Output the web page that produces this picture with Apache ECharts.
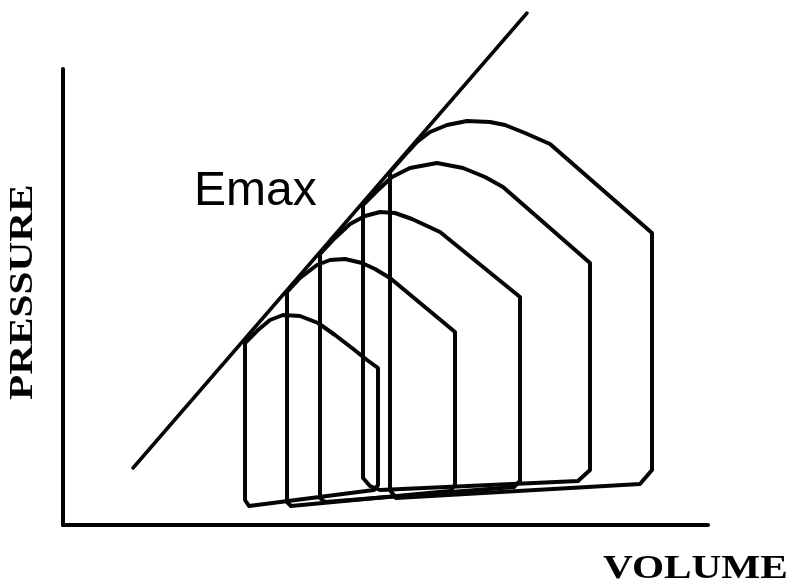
<!DOCTYPE html>
<html>
<head>
<meta charset="utf-8">
<script src="https://cdn.jsdelivr.net/npm/echarts@6/dist/echarts.min.js"></script>
<style>
  html, body { margin: 0; padding: 0; background: #fff; }
  #chart { width: 794px; height: 584px; }
</style>
</head>
<body>
<div id="chart"></div>
<script>
// values are [volume, pressure] in arbitrary units
const emaxLine = [[70, 57], [464, 512]]

const loop1 = [
  [182, 25], [182, 182], [195, 195], [207, 205], [220, 210], [237, 209],
  [255, 202], [272, 190], [289, 177], [304, 165], [315, 157], [315, 40],
  [311, 35], [186, 19], [182, 25],
]
const loop2 = [
  [224, 23], [224, 233], [237, 247], [254, 260], [267, 265], [282, 266],
  [299, 262], [312, 256], [327, 247], [392, 193], [392, 40], [387, 34],
  [228, 19], [224, 23],
]
const loop3 = [
  [257, 27], [257, 271], [272, 287], [287, 301], [302, 309], [317, 313],
  [332, 312], [349, 306], [377, 293], [457, 228], [457, 44], [451, 38],
  [262, 23], [257, 27],
]
const loop4 = [
  [300, 47], [300, 320], [315, 335], [329, 348], [347, 357], [374, 362],
  [400, 357], [422, 348], [440, 338], [527, 262], [527, 55], [515, 44],
  [317, 35], [307, 39], [300, 47],
]
const loop5 = [
  [327, 35], [327, 353], [342, 370], [354, 383], [367, 393], [384, 400],
  [404, 404], [427, 403], [442, 400], [462, 392], [487, 381], [589, 292],
  [589, 55], [577, 41], [333, 27], [327, 35],
]
const loops = [loop1, loop2, loop3, loop4, loop5]

const xName = 'VOLUME'
const yName = 'PRESSURE'
const lineName = 'Emax'

const chart = echarts.init(document.getElementById('chart'))

const axisCommon = {
  type: 'value',
  axisLine: { show: true, lineStyle: { color: '#000', width: 4 } },
  axisTick: { show: false },
  axisLabel: { show: false },
  splitLine: { show: false },
}

const loopSeries = loops.map((pts) => ({
  type: 'line',
  data: pts,
  showSymbol: false,
  silent: true,
  lineStyle: { color: '#050505', width: 4, join: 'round', cap: 'round' },
}))

chart.setOption({
  animation: false,
  backgroundColor: '#fff',
  grid: { left: 63, right: 86, top: 69, bottom: 59 },
  xAxis: { ...axisCommon, min: 0, max: 645 },
  yAxis: { ...axisCommon, min: 0, max: 456 },
  series: [
    {
      type: 'line',
      data: emaxLine,
      showSymbol: false,
      silent: true,
      clip: false,
      lineStyle: { color: '#050505', width: 3.5, cap: 'round' },
    },
    ...loopSeries,
  ],
  graphic: [
    {
      type: 'text',
      x: 194,
      y: 192,
      style: {
        text: lineName,
        fill: '#000',
        fontFamily: 'Liberation Sans',
        fontSize: 48,
        align: 'left',
        verticalAlign: 'middle',
      },
    },
    {
      type: 'text',
      x: 603,
      y: 569,
      scaleX: 1.25,
      style: {
        text: xName,
        fill: '#000',
        fontFamily: 'Liberation Serif',
        fontWeight: 'bold',
        fontSize: 33,
        align: 'left',
        verticalAlign: 'middle',
      },
    },
    {
      type: 'text',
      x: 23,
      y: 400,
      rotation: Math.PI / 2,
      scaleX: 1.25,
      style: {
        text: yName,
        fill: '#000',
        fontFamily: 'Liberation Serif',
        fontWeight: 'bold',
        fontSize: 33,
        align: 'left',
        verticalAlign: 'middle',
      },
    },
  ],
})
</script>
</body>
</html>
